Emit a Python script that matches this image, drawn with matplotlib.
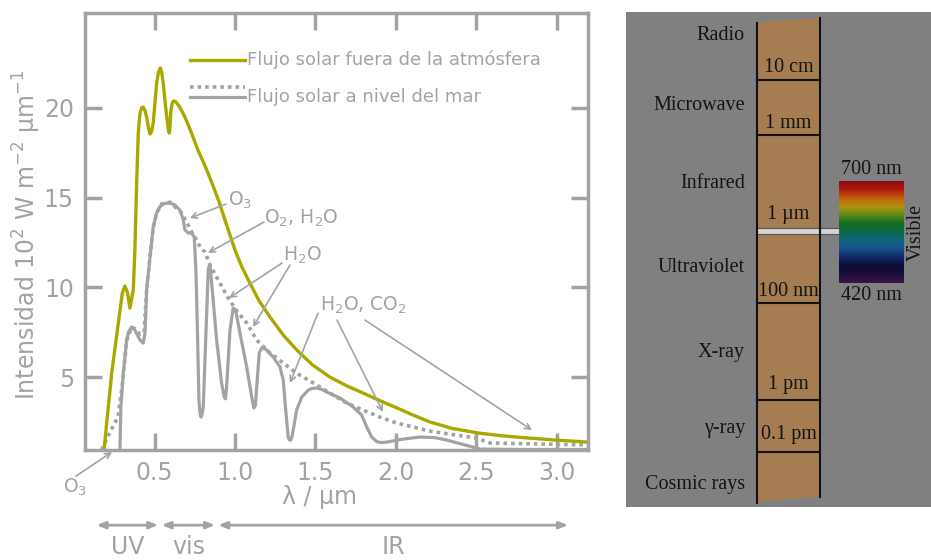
import numpy as np
import matplotlib
matplotlib.use('Agg')
import matplotlib.pyplot as plt
from matplotlib.patches import Rectangle, Polygon

# solar flux outside the atmosphere (um, 10^2 W m-2 um-1)
wl_top = [0.186, 0.234, 0.275, 0.300, 0.316, 0.333, 0.347, 0.368, 0.378, 0.389, 0.399, 0.410,
          0.420, 0.430, 0.441, 0.451, 0.462, 0.472, 0.482, 0.492, 0.503, 0.513, 0.525, 0.536,
          0.545, 0.554, 0.565, 0.576, 0.586, 0.592, 0.597, 0.602, 0.610, 0.617, 0.630, 0.648,
          0.668, 0.689, 0.730, 0.770, 0.815, 0.857, 0.900, 0.938, 1.000, 1.045, 1.093, 1.150,
          1.218, 1.300, 1.385, 1.480, 1.590, 1.700, 1.796, 1.900, 2.007, 2.100, 2.212, 2.350,
          2.516, 2.660, 2.833, 3.000, 3.188, 3.260]
flux_top = [0.95, 5.23, 8.02, 9.69, 10.08, 9.69, 8.85, 9.86, 12.08, 15.81, 18.60, 19.71,
            20.00, 20.04, 19.85, 19.49, 18.90, 18.54, 18.70, 19.15, 20.30, 21.38, 22.00, 22.22,
            21.95, 21.38, 20.40, 19.49, 18.80, 18.60, 19.10, 19.88, 20.25, 20.38, 20.35, 20.16,
            19.85, 19.49, 18.60, 17.65, 16.75, 15.81, 14.80, 13.75, 12.08, 11.10, 10.24, 9.25,
            8.35, 7.35, 6.51, 5.70, 5.01, 4.50, 4.12, 3.70, 3.29, 2.92, 2.51, 2.15,
            1.89, 1.74, 1.61, 1.50, 1.39, 1.36]

# solar flux at sea level (solid)
wl_sea = [0.285, 0.291, 0.306, 0.327, 0.340, 0.358, 0.378, 0.410, 0.430, 0.441, 0.451, 0.472,
          0.492, 0.513, 0.530, 0.544, 0.565, 0.585, 0.607, 0.627, 0.658, 0.679, 0.689, 0.710,
          0.731, 0.747, 0.758, 0.768, 0.776, 0.783, 0.789, 0.796, 0.803, 0.818, 0.834, 0.840,
          0.845, 0.859, 0.886, 0.917, 0.933, 0.941, 0.948, 0.969, 0.989, 1.004, 1.031, 1.073,
          1.104, 1.118, 1.127, 1.135, 1.151, 1.166, 1.180, 1.197, 1.238, 1.280, 1.300, 1.317,
          1.331, 1.338, 1.346, 1.354, 1.362, 1.383, 1.415, 1.456, 1.480, 1.508, 1.540, 1.570,
          1.653, 1.735, 1.787, 1.819, 1.850, 1.881, 1.910, 1.943, 2.000, 2.046, 2.150, 2.240,
          2.318, 2.400, 2.480, 2.523, 2.800, 3.260]
flux_sea = [0.95, 3.34, 5.23, 7.07, 7.55, 7.80, 7.63, 7.07, 6.90, 7.46, 9.86, 11.69,
            13.36, 14.14, 14.45, 14.59, 14.68, 14.70, 14.66, 14.59, 14.31, 13.75, 13.20, 13.03,
            13.03, 12.81, 10.80, 7.07, 3.73, 3.00, 2.78, 2.95, 3.34, 7.07, 10.97, 11.20,
            11.25, 9.86, 7.07, 4.68, 3.90, 3.80, 4.45, 7.63, 8.85, 8.74, 7.46, 5.57,
            3.90, 3.29, 3.45, 4.45, 6.35, 6.63, 6.62, 6.51, 6.12, 5.57, 4.84, 3.01,
            1.67, 1.52, 1.50, 1.68, 2.06, 3.17, 3.90, 4.29, 4.38, 4.40, 4.32, 4.18,
            3.84, 3.34, 2.90, 2.23, 1.67, 1.42, 1.36, 1.39, 1.48, 1.56, 1.67, 1.64,
            1.50, 1.30, 1.11, 1.00, 0.98, 0.98]

# sea level envelope (dotted)
wl_env = [0.172, 0.223, 0.273, 0.300, 0.327, 0.358, 0.378, 0.410, 0.435, 0.451, 0.472, 0.492,
          0.513, 0.544, 0.596, 0.669, 0.700, 0.731, 0.762, 0.783, 0.814, 0.845, 0.896, 0.958,
          1.011, 1.073, 1.135, 1.218, 1.300, 1.383, 1.487, 1.590, 1.694, 1.797, 1.901, 2.005,
          2.108, 2.212, 2.502, 2.585, 3.260]
flux_env = [0.95, 1.95, 2.78, 4.60, 7.07, 7.80, 7.70, 7.40, 7.50, 9.86, 11.69, 13.36,
            14.14, 14.65, 14.75, 14.14, 13.64, 13.08, 12.64, 12.25, 11.97, 11.25, 10.41, 9.41,
            8.69, 8.02, 7.07, 6.35, 5.79, 5.23, 4.68, 4.12, 3.56, 3.17, 2.78, 2.45,
            2.23, 2.00, 1.61, 1.34, 1.22]

x_ticks = [0.5, 1.0, 1.5, 2.0, 2.5, 3.0]
y_ticks = [5, 10, 15, 20]

# absorption labels: text, text pos, list of arrow (tail, head)
absorbers = [
    ('O$_3$', (0.954, 14.87), [((0.944, 14.64), (0.720, 13.86))]),
    ('O$_2$, H$_2$O', (1.180, 13.86), [((1.180, 13.64), (0.832, 11.92))]),
    ('H$_2$O', (1.299, 11.80), [((1.292, 11.36), (0.963, 9.41)),
                                 ((1.342, 11.25), (1.112, 7.80))]),
    ('H$_2$O, CO$_2$', (1.528, 9.02), [((1.516, 8.57), (1.342, 4.68)),
                                        ((1.634, 8.18), (1.920, 3.06)),
                                        ((1.808, 8.18), (2.846, 2.06))]),
]

# spectral bands under the axis
bands = ['UV', 'vis', 'IR']
band_edges = [(0.140, 0.523), (0.544, 0.876), (0.896, 3.07)]

# electromagnetic spectrum panel
em_names = ['Radio', 'Microwave', 'Infrared', 'Ultraviolet', 'X-ray', 'γ-ray', 'Cosmic rays']
em_name_y = [35, 106, 183, 268, 352, 428, 485]
em_limits = ['10 cm', '1 mm', '1 µm', '100 nm', '1 pm', '0.1 pm']
em_limit_y = [68, 123, 215, 292, 385, 435]
em_lines_y = [80, 135, 303, 400, 452]
rainbow = ['#8a0a12', '#b01c0c', '#c4600c', '#b09410', '#5a8a14', '#126a22', '#0a6a4a',
           '#0f6680', '#17508a', '#122a66', '#0a0c34', '#1c0c3a', '#3c1448']

gray = '#a3a3a3'
green = '#a8a800'

fig = plt.figure(figsize=(9.31, 5.6), dpi=100)
ax = fig.add_axes([85/931, 1 - 450/560, 503/931, 437/560])

ax.plot(wl_env, flux_env, color=gray, lw=2.6, ls=(0, (1, 1.1)))
ax.plot(wl_sea, flux_sea, color=gray, lw=2.3, solid_joinstyle='round')
ax.plot(wl_top, flux_top, color=green, lw=2.4, solid_joinstyle='round')

ax.set_xlim(0.068, 3.194)
ax.set_ylim(0.95, 25.28)
ax.set_xticks(x_ticks)
ax.set_xticklabels(['%.1f' % t for t in x_ticks])
ax.set_yticks(y_ticks)
ax.tick_params(direction='in', length=12, width=2.5, color=gray, top=True, right=True,
               labelsize=17, labelcolor=gray, pad=8)
for s in ax.spines.values():
    s.set_color(gray)
    s.set_linewidth(2.5)

ax.text(0.467, -0.108, 'λ / µm', transform=ax.transAxes, ha='center', va='center',
        fontsize=17, color=gray)
ax.text(-0.115, 0.492, 'Intensidad 10$^2$ W m$^{-2}$ µm$^{-1}$', transform=ax.transAxes,
        rotation=90, ha='center', va='center', fontsize=17, color=gray)

# legend drawn by hand
ax.plot([0.209, 0.318], [0.892, 0.892], transform=ax.transAxes, color=green, lw=2.4)
ax.text(0.322, 0.892, 'Flujo solar fuera de la atmósfera', transform=ax.transAxes,
        va='center', fontsize=13, color=gray)
ax.plot([0.209, 0.318], [0.831, 0.831], transform=ax.transAxes, color=gray, lw=2.6,
        ls=(0, (1, 1.1)))
ax.plot([0.209, 0.318], [0.808, 0.808], transform=ax.transAxes, color=gray, lw=2.3)
ax.text(0.322, 0.808, 'Flujo solar a nivel del mar', transform=ax.transAxes,
        va='center', fontsize=13, color=gray)

for label, pos, arrows in absorbers:
    ax.text(pos[0], pos[1], label, fontsize=13.5, color=gray, ha='left', va='center')
    for tail, head in arrows:
        ax.annotate('', xy=head, xytext=tail,
                    arrowprops=dict(arrowstyle='->', color=gray, lw=1.2,
                                    shrinkA=0, shrinkB=0))

ax.text(0.006, -1.11, 'O$_3$', fontsize=13.5, color=gray, ha='center', va='center',
        clip_on=False)
ax.annotate('', xy=(0.236, 0.84), xytext=(0.012, -0.50), annotation_clip=False,
            arrowprops=dict(arrowstyle='->', color=gray, lw=1.2, shrinkA=0, shrinkB=0))

tr = ax.get_xaxis_transform()
for name, (a, b) in zip(bands, band_edges):
    ax.annotate('', xy=(a, -0.172), xytext=(b, -0.172), xycoords=tr, textcoords=tr,
                annotation_clip=False,
                arrowprops=dict(arrowstyle='<|-|>,head_length=0.5,head_width=0.2',
                                color=gray, lw=2, shrinkA=0, shrinkB=0))
    ax.text((a + b) / 2, -0.222, name, transform=tr, ha='center', va='center',
            fontsize=17, color=gray, clip_on=False)

# EM spectrum panel
ax2 = fig.add_axes([626/931, 1 - 507/560, 305/931, 495/560])
ax2.set_facecolor('#808080')
for s in ax2.spines.values():
    s.set_visible(False)
ax2.set_xticks([])
ax2.set_yticks([])

bar_top_x = [757, 772, 788, 804, 820]
bar_top_y = [23, 21, 20, 19, 18]
bar_bot_y = [503, 500, 499, 498, 497]
ax2.add_patch(Polygon(list(zip(bar_top_x, bar_top_y)) + list(zip(bar_top_x[::-1], bar_bot_y[::-1])),
                      closed=True, facecolor='#a67c52', edgecolor='none'))
ax2.plot([757, 757], [23, 503], color='#111111', lw=1.5)
ax2.plot([820, 820], [18, 497], color='#111111', lw=1.5)
for yy in em_lines_y:
    ax2.plot([757, 820], [yy, yy], color='#111111', lw=1.5)

serif = 'Liberation Serif'
for name, yy in zip(em_names, em_name_y):
    ax2.text(745, yy, name, ha='right', va='center', fontsize=14.5, family=serif,
             color='#141414')
for lab, yy in zip(em_limits, em_limit_y):
    ax2.text(788.5, yy, lab, ha='center', va='center', fontsize=14.5, family=serif,
             color='#141414')

# connector to the visible band
ax2.add_patch(Rectangle((757, 228), 82, 6, facecolor='#d4d4d4', edgecolor='#555555', lw=0.8))

cols = np.array([matplotlib.colors.to_rgb(c) for c in rainbow])
pos = np.linspace(0, 1, len(rainbow))
t = np.linspace(0, 1, 200)
grad = np.stack([np.interp(t, pos, cols[:, k]) for k in range(3)], axis=1)[:, None, :]
ax2.imshow(grad, extent=[839, 904, 283, 181], aspect='auto', interpolation='bilinear')
ax2.set_xlim(626, 931)
ax2.set_ylim(507, 12)

ax2.text(871, 170, '700 nm', ha='center', va='center', fontsize=14.5, family=serif,
         color='#141414')
ax2.text(871, 296, '420 nm', ha='center', va='center', fontsize=14.5, family=serif,
         color='#141414')
ax2.text(916, 232, 'Visible', rotation=90, ha='center', va='center', fontsize=14.5,
         family=serif, color='#141414')

fig.savefig('out.png', dpi=100)
